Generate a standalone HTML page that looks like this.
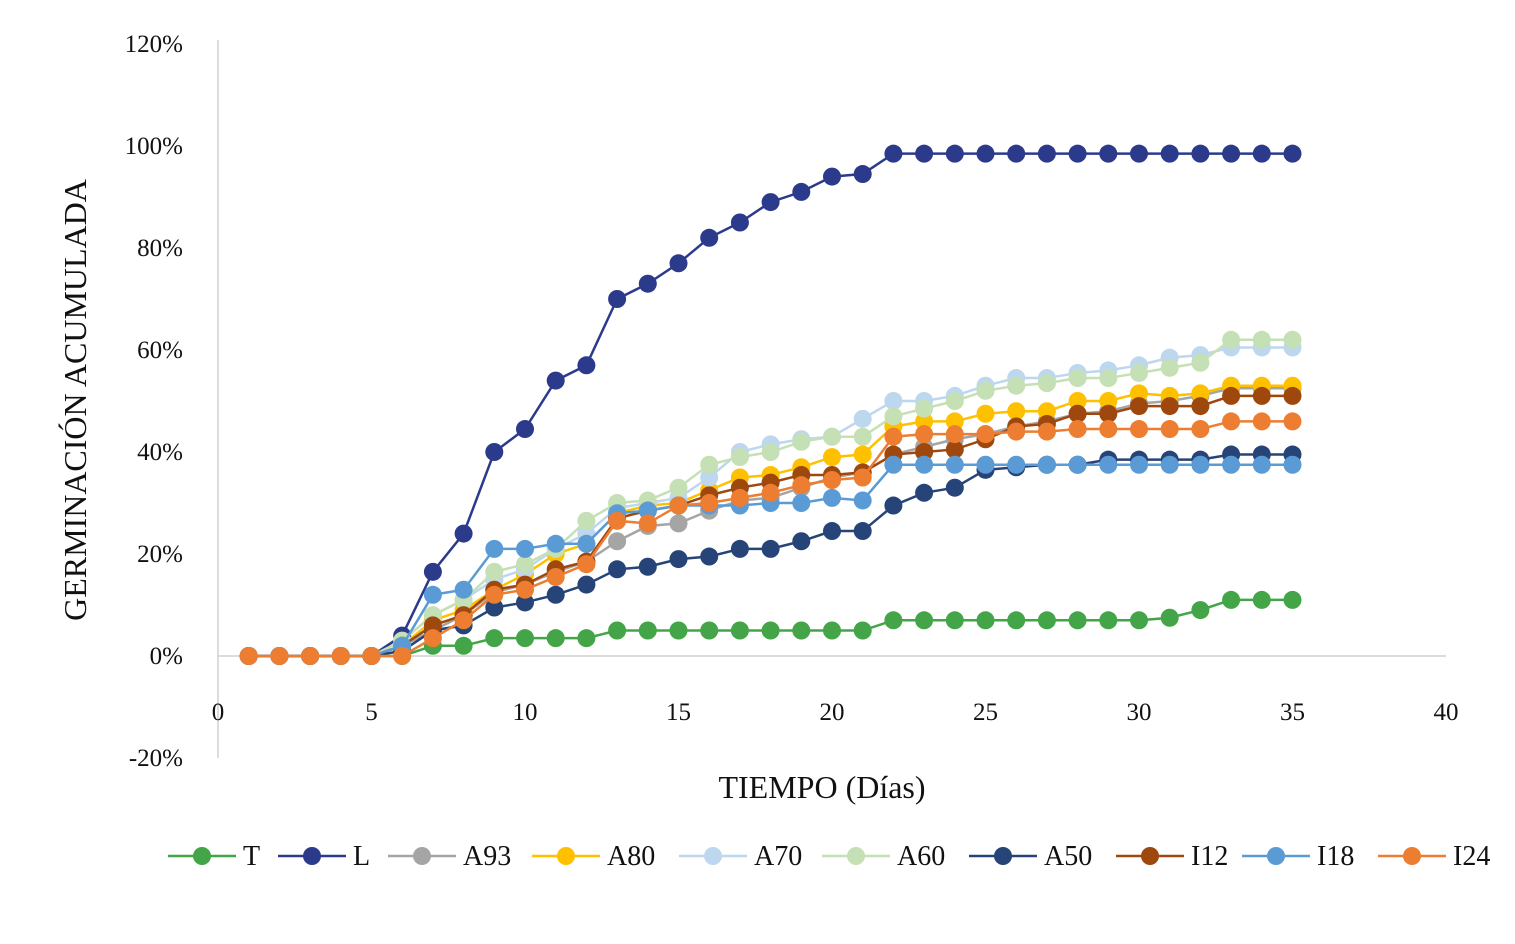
<!DOCTYPE html>
<html><head><meta charset="utf-8"><style>
body{margin:0;background:#fff;}
svg{display:block;font-family:"Liberation Serif",serif;}
</style></head><body>
<svg id="chart" width="1515" height="944" viewBox="0 0 1515 944" xmlns="http://www.w3.org/2000/svg">
<g id="axes"></g><g id="series"></g><g id="legend"></g>
<text transform="translate(86,400) rotate(-90)" text-anchor="middle" font-size="32" fill="#111">GERMINACIÓN ACUMULADA</text>
<text x="822" y="798" text-anchor="middle" font-size="32" fill="#111">TIEMPO (Días)</text>
</svg>
<script>
const days=[1,2,3,4,5,6,7,8,9,10,11,12,13,14,15,16,17,18,19,20,21,22,23,24,25,26,27,28,29,30,31,32,33,34,35];
const seriesNames=["T","L","A93","A80","A70","A60","A50","I12","I18","I24"];
const seriesColors=["#43a547","#2c3a8c","#a5a5a5","#ffc000","#bdd7ee","#c5e0b4","#264478","#9e480e","#5b9bd5","#ed7d31"];
const T=[0,0,0,0,0,0,2,2,3.5,3.5,3.5,3.5,5,5,5,5,5,5,5,5,5,7,7,7,7,7,7,7,7,7,7.5,9,11,11,11];
const L=[0,0,0,0,0,4,16.5,24,40,44.5,54,57,70,73,77,82,85,89,91,94,94.5,98.5,98.5,98.5,98.5,98.5,98.5,98.5,98.5,98.5,98.5,98.5,98.5,98.5,98.5];
const A93=[0,0,0,0,0,2,5,8,12.5,14,16.5,18.5,22.5,25.5,26,28.5,30.5,31,33,35,36,39.5,41,42.5,43.5,45,46,47.5,48,49.5,50,51,52.5,52.5,52.5];
const A80=[0,0,0,0,0,2,7,9,13,16,20,22,28,29.5,30,32.5,35,35.5,37,39,39.5,45,46,46,47.5,48,48,50,50,51.5,51,51.5,53,53,53];
const A70=[0,0,0,0,0,3,8,11,15,17,21,24,29,30,31,35,40,41.5,42.5,43,46.5,50,50,51,53,54.5,54.5,55.5,56,57,58.5,59,60.5,60.5,60.5];
const A60=[0,0,0,0,0,3,8,11,16.5,18,21,26.5,30,30.5,33,37.5,39,40,42,43,43,47,48.5,50,52,53,53.5,54.5,54.5,55.5,56.5,57.5,62,62,62];
const A50=[0,0,0,0,0,1,5,6,9.5,10.5,12,14,17,17.5,19,19.5,21,21,22.5,24.5,24.5,29.5,32,33,36.5,37,37.5,37.5,38.5,38.5,38.5,38.5,39.5,39.5,39.5];
const I12=[0,0,0,0,0,2,6,8,13,14,17,18.5,27,28.5,29.5,31.5,33,34,35.5,35.5,36,39.5,40,40.5,42.5,45,45.5,47.5,47.5,49,49,49,51,51,51];
const I18=[0,0,0,0,0,2,12,13,21,21,22,22,28,28.5,29.5,29.5,29.5,30,30,31,30.5,37.5,37.5,37.5,37.5,37.5,37.5,37.5,37.5,37.5,37.5,37.5,37.5,37.5,37.5];
const I24=[0,0,0,0,0,0,3.5,7,12,13,15.5,18,26.5,26,29.5,30,31,32,33.5,34.5,35,43,43.5,43.5,43.5,44,44,44.5,44.5,44.5,44.5,44.5,46,46,46];
const xTicks=[0,5,10,15,20,25,30,35,40];
const yTicks=[-20,0,20,40,60,80,100,120];
const allSeries=[T,L,A93,A80,A70,A60,A50,I12,I18,I24];
const NS="http://www.w3.org/2000/svg";
const xs=v=>218+v*(1446-218)/40;
const ys=v=>656-v*5.1;
function mk(tag,attrs,parent){const e=document.createElementNS(NS,tag);for(const k in attrs)e.setAttribute(k,attrs[k]);parent.appendChild(e);return e;}
const axes=document.getElementById('axes');
let ya=mk('line',{x1:218,y1:40,x2:218,y2:758,stroke:'#d0d0d0','stroke-width':1.5},axes);


let xa=mk('line',{x1:218,y1:656,x2:1446,y2:656,stroke:'#d0d0d0','stroke-width':1.5},axes);


yTicks.forEach(t=>{const e=mk('text',{x:183,y:ys(t)+8,'text-anchor':'end','font-size':25,fill:'#111'},axes);e.textContent=t+'%';

});
xTicks.forEach(t=>{const e=mk('text',{x:xs(t),y:720,'text-anchor':'middle','font-size':25,fill:'#111'},axes);e.textContent=t;

});
const sg=document.getElementById('series');
allSeries.forEach((s,i)=>{const g=mk('g',{},sg);


mk('polyline',{points:s.map((v,j)=>xs(days[j])+','+ys(v)).join(' '),fill:'none',stroke:seriesColors[i],'stroke-width':2.5},g);
s.forEach((v,j)=>{const c=mk('circle',{cx:xs(days[j]),cy:ys(v),r:9,fill:seriesColors[i]},g);

});});
const lg=document.getElementById('legend');
const lx=[168,278,388,532,679,822,969,1116,1242,1378];
seriesNames.forEach((n,i)=>{const g=mk('g',{},lg);


const x=lx[i];
mk('line',{x1:x,y1:856,x2:x+68,y2:856,stroke:seriesColors[i],'stroke-width':2.5},g);
mk('circle',{cx:x+34,cy:856,r:9,fill:seriesColors[i]},g);
const t=mk('text',{x:x+75,y:865,'font-size':28,fill:'#111'},g);t.textContent=n;});
</script>
</body></html>
